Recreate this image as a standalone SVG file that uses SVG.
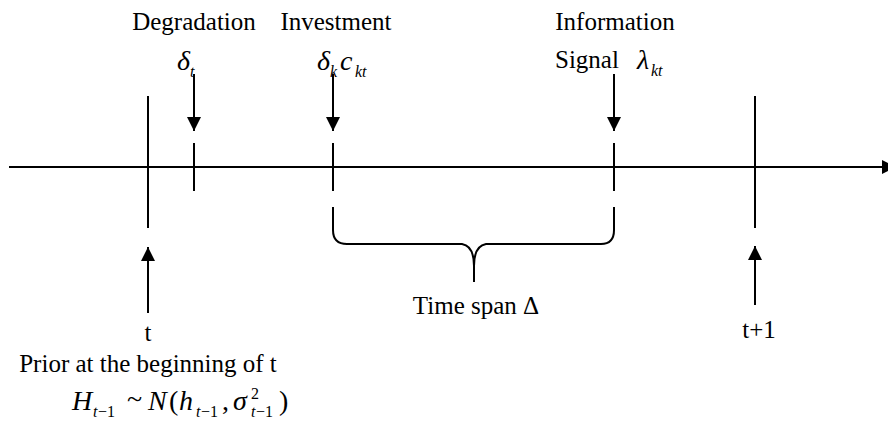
<svg xmlns="http://www.w3.org/2000/svg" width="888" height="427" viewBox="0 0 888 427">
<defs>
<marker id="ah" viewBox="0 0 10 10" refX="10" refY="5" markerWidth="15" markerHeight="14" markerUnits="userSpaceOnUse" orient="auto"><path d="M0,0 L10,5 L0,10 Z" fill="#000"/></marker>
<style>
.ln{stroke:#000;stroke-width:2;fill:none}
.t{font-family:"Liberation Serif",serif;font-size:25px;fill:#000}
.m{font-family:"Liberation Serif",serif;font-style:italic;font-size:28px;fill:#000}
.s{font-family:"Liberation Serif",serif;font-style:italic;font-size:16px;fill:#000}
.sn{font-family:"Liberation Serif",serif;font-size:16px;fill:#000}
.r{font-family:"Liberation Serif",serif;font-size:28px;fill:#000}
</style>
</defs>
<rect width="888" height="427" fill="#fff"/>
<g id="connectors">
<line class="ln" x1="9" y1="167" x2="896" y2="167" marker-end="url(#ah)"/>
<line class="ln" x1="194" y1="74" x2="194" y2="131" marker-end="url(#ah)"/>
<line class="ln" x1="333" y1="74" x2="333" y2="131" marker-end="url(#ah)"/>
<line class="ln" x1="614" y1="74" x2="614" y2="131" marker-end="url(#ah)"/>
<line class="ln" x1="148" y1="313" x2="148" y2="247" marker-end="url(#ah)"/>
<line class="ln" x1="755" y1="305" x2="755" y2="246" marker-end="url(#ah)"/>
</g>
<g id="tick-t"><line class="ln" x1="148" y1="96" x2="148" y2="228"/></g>
<g id="tick-degradation"><line class="ln" x1="194" y1="143" x2="194" y2="191"/></g>
<g id="tick-investment"><line class="ln" x1="333" y1="143" x2="333" y2="191"/></g>
<g id="tick-signal"><line class="ln" x1="614" y1="143" x2="614" y2="191"/></g>
<g id="tick-t1"><line class="ln" x1="755" y1="96" x2="755" y2="228"/></g>
<g id="brace">
<path class="ln" d="M333,207 L333,230 Q333,244 347,244 L462,244 Q474,246 474,266 L474,282 M474,266 Q474,246 486,244 L601,244 Q614,244 614,230 L614,207"/>
</g>
<g id="label-degradation">
<text class="t" x="194" y="30" text-anchor="middle">Degradation</text>
<text class="m" x="177" y="70">δ</text><text class="s" x="190" y="77">t</text>
</g>
<g id="label-investment">
<text class="t" x="336" y="30" text-anchor="middle">Investment</text>
<text class="m" x="317" y="70">δ</text><text class="s" x="330" y="77">k</text><text class="m" x="340" y="70">c</text><text class="s" x="355" y="77">kt</text>
</g>
<g id="label-signal">
<text class="t" x="615" y="30" text-anchor="middle">Information</text>
<text class="t" x="555" y="68">Signal</text>
<text class="m" x="637" y="69">λ</text><text class="s" x="651" y="76">kt</text>
</g>
<g id="label-timespan"><text class="t" x="476" y="314" text-anchor="middle">Time span Δ</text></g>
<g id="label-t">
<text class="t" x="148" y="341" text-anchor="middle">t</text>
<text class="t" x="148" y="372" text-anchor="middle">Prior at the beginning of t</text>
<text class="m" x="72" y="410">H</text><text class="s" x="93" y="417">t</text><text class="sn" x="98" y="417">−1</text>
<text class="r" x="127" y="408">~</text>
<text class="m" x="148" y="410">N</text><text class="r" x="169" y="410">(</text>
<text class="m" x="179" y="410">h</text><text class="s" x="196" y="417">t</text><text class="sn" x="201" y="417">−1</text>
<text class="r" x="222" y="410">,</text>
<text class="m" x="233" y="410">σ</text><text class="s" x="251" y="417">t</text><text class="sn" x="256" y="417">−1</text><text class="sn" x="251" y="399">2</text>
<text class="r" x="279" y="410">)</text>
</g>
<g id="label-t1"><text class="t" x="759" y="338" text-anchor="middle">t+1</text></g>
</svg>
